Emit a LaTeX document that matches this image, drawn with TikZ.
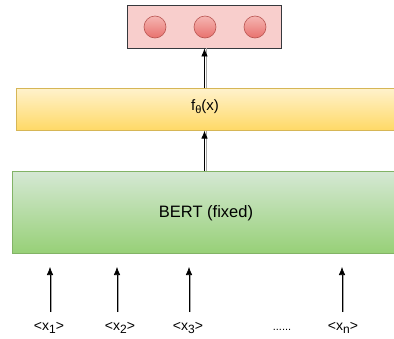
\documentclass[tikz,border=0pt]{standalone}
\usepackage{fontspec}
\setmainfont{Liberation Sans}
\usetikzlibrary{arrows.meta}
\definecolor{redfill}{HTML}{F8CECC}
\definecolor{redline}{HTML}{36393D}
\definecolor{ballline}{HTML}{B85450}
\definecolor{balltop}{HTML}{F5B5B2}
\definecolor{ballbot}{HTML}{E8726E}
\definecolor{yeltop}{HTML}{FFF2CC}
\definecolor{yelbot}{HTML}{FFD966}
\definecolor{yelline}{HTML}{D6B656}
\definecolor{grntop}{HTML}{D5E8D4}
\definecolor{grnbot}{HTML}{97D077}
\definecolor{grnline}{HTML}{82B366}
\tikzset{
  ball/.style={circle, draw=ballline, line width=0.6pt, minimum size=22pt, inner sep=0pt, top color=balltop, bottom color=ballbot},
  lbl/.style={font=\fontsize{14}{16}\selectfont, inner sep=1pt},
  arr/.style={line width=0.8pt, -{Latex[length=8pt,width=6.5pt]}},
  shadowline/.style={line width=0.9pt, draw=black!35},
}
\begin{document}
\begin{tikzpicture}[x=1pt,y=-1pt]
\useasboundingbox (0,0) rectangle (394,338);
\clip (0,0) rectangle (394,338);
% top output box
\node[draw=redline, fill=redfill, line width=0.8pt, minimum width=154pt, minimum height=43pt, inner sep=0pt] (out) at (204,26.5) {};
\node[ball] (b1) at (155,27) {};
\node[ball] (b2) at (205,27) {};
\node[ball] (b3) at (255,27) {};
% yellow box
\node[draw=yelline, top color=yeltop, bottom color=yelbot, line width=0.6pt, minimum width=400pt, minimum height=42pt, inner sep=0pt, anchor=north west] (f) at (16,88) {};
\node[font=\fontsize{15}{17}\selectfont] (ftxt) at (205,107) {f\raisebox{-0.35ex}{\fontsize{11}{11}\selectfont θ}(x)};
% green box
\node[draw=grnline, top color=grntop, bottom color=grnbot, line width=0.6pt, minimum width=400pt, minimum height=82pt, inner sep=0pt, anchor=north west] (bert) at (12,171) {};
\node[font=\fontsize{16.5}{18}\selectfont] (btxt) at (206,213) {BERT (fixed)};
% arrows between boxes
\coordinate (fa) at (204.5,88);
\coordinate (ga) at (204.5,171);
\draw[shadowline] ([xshift=1.5pt]fa) -- ([xshift=1.5pt]fa |- out.south);
\draw[arr] (fa) -- (fa |- out.south);
\draw[shadowline] ([xshift=1.5pt]ga) -- ([xshift=1.5pt]ga |- f.south);
\draw[arr] (ga) -- (ga |- f.south);
% inputs
\node[lbl] (x1) at (49,328) {<x\raisebox{-0.3ex}{\fontsize{12}{12}\selectfont 1}>};
\node[lbl] (x2) at (120,328) {<x\raisebox{-0.3ex}{\fontsize{12}{12}\selectfont 2}>};
\node[lbl] (x3) at (188,328) {<x\raisebox{-0.3ex}{\fontsize{12}{12}\selectfont 3}>};
\node[lbl, font=\fontsize{11}{13}\selectfont] (dots) at (282,330) {......};
\node[lbl] (xn) at (343,328) {<x\raisebox{-0.3ex}{\fontsize{12}{12}\selectfont n}>};
\foreach \n/\x in {x1/50, x2/117, x3/189, xn/342} {
  \coordinate (t\n) at (\x,267);
  \coordinate (s\n) at (\x,312);
  \draw[shadowline] ([xshift=1.3pt]s\n) -- ([xshift=1.3pt,yshift=-6pt]t\n);
  \draw[arr, line width=0.6pt] (s\n) -- (t\n);
}
\end{tikzpicture}
\end{document}
